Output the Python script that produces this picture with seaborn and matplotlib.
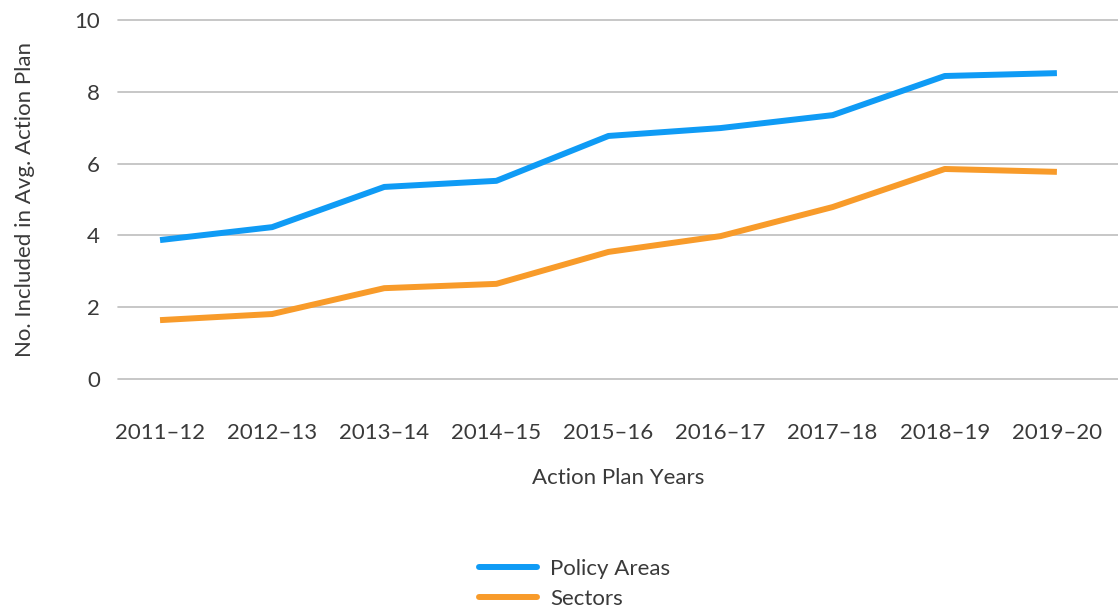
import matplotlib
matplotlib.use("Agg")
import matplotlib.pyplot as plt
import seaborn as sns
import pandas as pd

years = ["2011–12", "2012–13", "2013–14", "2014–15", "2015–16",
         "2016–17", "2017–18", "2018–19", "2019–20"]
policy_areas = [3.87, 4.23, 5.35, 5.52, 6.77, 6.99, 7.35, 8.44, 8.52]
sectors = [1.64, 1.81, 2.53, 2.65, 3.54, 3.98, 4.79, 5.85, 5.77]
series_names = ["Policy Areas", "Sectors"]
colors = ["#0f9bf5", "#f89b2a"]

df = pd.DataFrame({
    "Year": years * 2,
    "idx": list(range(len(years))) * 2,
    "Value": policy_areas + sectors,
    "Series": [series_names[0]] * len(years) + [series_names[1]] * len(years),
})

sns.set_theme(style="white")
plt.rcParams['font.family'] = ['Lato', 'DejaVu Sans']

fig = plt.figure(figsize=(11.18, 6.12), dpi=100)
W, H = 1118, 612
ax = fig.add_axes([118 / W, 1 - 379 / H, 1 - 118 / W, (379 - 20) / H])

sns.lineplot(data=df, x="idx", y="Value", hue="Series", palette=colors,
             linewidth=4.3, ax=ax, legend=False, solid_capstyle="butt")

txt = "#3a3a3a"
fs = 16
ax.set_xlim(-0.375, 8.545)
ax.set_ylim(0, 10)
ax.set_yticks([0, 2, 4, 6, 8, 10])
ax.set_xticks(range(len(years)))
ax.set_xticklabels(years)
ax.grid(axis="y", color="#bdbdbd", linewidth=1.2)
ax.grid(axis="x", visible=False)
for s in ax.spines.values():
    s.set_visible(False)
ax.tick_params(axis="both", length=0, labelsize=fs, labelcolor=txt)
ax.tick_params(axis="x", pad=32)
ax.tick_params(axis="y", pad=13)
for gl in ax.get_ygridlines():
    gl.set_clip_on(False)

ax.set_xlabel("Action Plan Years", fontsize=fs, color=txt, labelpad=18)
ax.set_ylabel("No. Included in Avg. Action Plan", fontsize=fs, color=txt, labelpad=28)

from matplotlib.lines import Line2D
handles = [Line2D([0], [0], color=c, linewidth=4.3) for c in colors]
fig.legend(handles, series_names, loc="center", bbox_to_anchor=(575 / W, 1 - 584 / H),
           frameon=False, fontsize=fs, labelcolor=txt, handlelength=2.6,
           handletextpad=0.6, labelspacing=0.45)

fig.savefig("out.png", dpi=100)
